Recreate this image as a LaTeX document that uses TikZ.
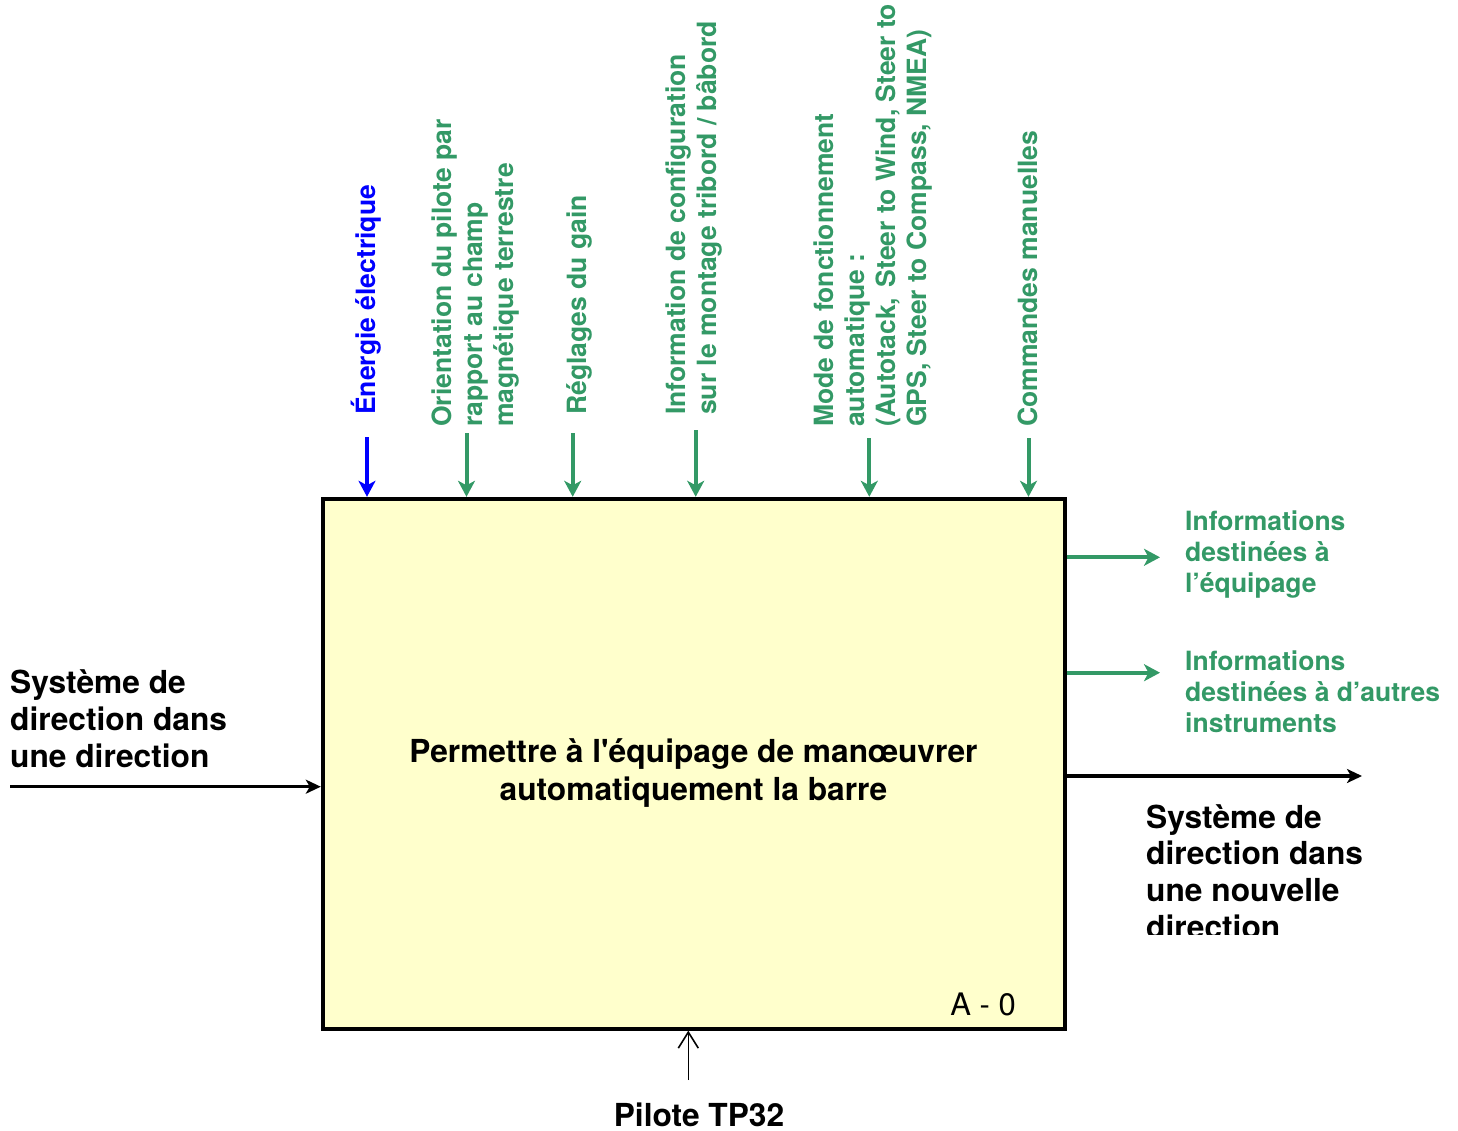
\documentclass[tikz,border=0pt]{standalone}
\usepackage{fontspec}
\setmainfont{TeX Gyre Heros}
\newfontfamily\rawf{TeX Gyre Heros}[Ligatures=TeXOff]
\usetikzlibrary{arrows.meta}
\definecolor{grn}{RGB}{51,153,102}
\definecolor{boxfill}{RGB}{255,255,204}
\tikzset{
  toplbl/.style={rotate=90, anchor=south west, inner sep=0pt, align=left, text=grn,
    font=\fontsize{26.5}{31}\selectfont\bfseries},
  rlbl/.style={anchor=north west, inner sep=0pt, align=left, text=grn,
    font=\fontsize{26.5}{31}\selectfont\bfseries},
  biglbl/.style={inner sep=0pt, align=left,
    font=\fontsize{31.7}{36.8}\selectfont\bfseries},
  garrow/.style={draw=grn, line width=4pt, -{Stealth[length=16pt,width=17pt,inset=4.5pt]}},
  barrow/.style={draw=blue, line width=4pt, -{Stealth[length=16pt,width=17pt,inset=4.5pt]}},
  karrow/.style={draw=black, line width=3.2pt, -{Stealth[length=15pt,width=14pt,inset=4pt]}},
  thinarrow/.style={draw=black, line width=1.6pt, -{Straight Barb[length=16pt,width=20pt]}},
  mainbox/.style={draw=black, line width=3.8pt, fill=boxfill, minimum width=742pt,
    minimum height=530pt, inner sep=0pt}
}
\begin{document}
\begin{tikzpicture}[x=1pt,y=-1pt]
\useasboundingbox (0,0) rectangle (1458,1131);

% main box
\node[mainbox] (box) at (693.7,763.7) {};
\node[inner sep=0pt, anchor=north, align=center,
  font=\rawf\fontsize{31.7}{38}\selectfont\bfseries] (title) at (693.5,738)
  {Permettre à l'équipage de manœuvrer\\automatiquement la barre};
\node[inner sep=0pt, anchor=base east, font=\fontsize{31}{31}\selectfont] (ref) at (1016,1015) {A - 0};

% top labels
\node[toplbl, text=blue] (lE) at (381,415) {Énergie électrique};
\node[toplbl] (lO) at (519,427) {Orientation du pilote par\\rapport au champ\\magnétique terrestre};
\node[toplbl] (lR) at (592,415) {Réglages du gain};
\node[toplbl] (lI) at (722,415) {Information de configuration\\sur le montage tribord / bâbord};
\node[toplbl] (lM) at (932,427) {Mode de fonctionnement\\automatique :\\(Autotack,\hspace{3pt} Steer to Wind, Steer to\\GPS, Steer to Compass, NMEA)};
\node[toplbl] (lC) at (1038,427) {Commandes manuelles};

% top arrow start points
\coordinate (tE) at (367,437);
\coordinate (tO) at (466.5,433);
\coordinate (tR) at (572.7,433);
\coordinate (tI) at (695.7,430);
\coordinate (tM) at (869.3,438);
\coordinate (tC) at (1028.5,438);
\draw[barrow] (tE) -- (tE |- box.north);
\draw[garrow] (tO) -- (tO |- box.north);
\draw[garrow] (tR) -- (tR |- box.north);
\draw[garrow] (tI) -- (tI |- box.north);
\draw[garrow] (tM) -- (tM |- box.north);
\draw[garrow] (tC) -- (tC |- box.north);

% right outputs
\node[rlbl] (lInf1) at (1185,510.5) {Informations\\destinées à\\l’équipage};
\node[rlbl] (lInf2) at (1185,650.5) {Informations\\destinées à d’autres\\instruments};
\coordinate (o1) at (1160,557.3);
\coordinate (o2) at (1160,672.7);
\draw[garrow] (o1 -| box.east) -- (o1);
\draw[garrow] (o2 -| box.east) -- (o2);

\coordinate (oK) at (1362,776);
\draw[karrow] (oK -| box.east) -- (oK);
\begin{scope}
  \clip (1100,790) rectangle (1458,934);
  \node[biglbl, anchor=north west] (lout) at (1146,804)
    {Système de\\direction dans\\une nouvelle\\direction};
\end{scope}

% left input
\node[biglbl, anchor=north west] (lin) at (10,669.5) {Système de\\direction dans\\une direction};
\coordinate (iL) at (10,786.7);
\draw[karrow] (iL) -- (iL -| box.west);

% bottom mechanism
\node[biglbl, anchor=base] (lP) at (699,1126) {Pilote TP32};
\coordinate (bP) at (688.3,1080);
\draw[thinarrow] (bP) -- (bP |- box.south);
\end{tikzpicture}
\end{document}
